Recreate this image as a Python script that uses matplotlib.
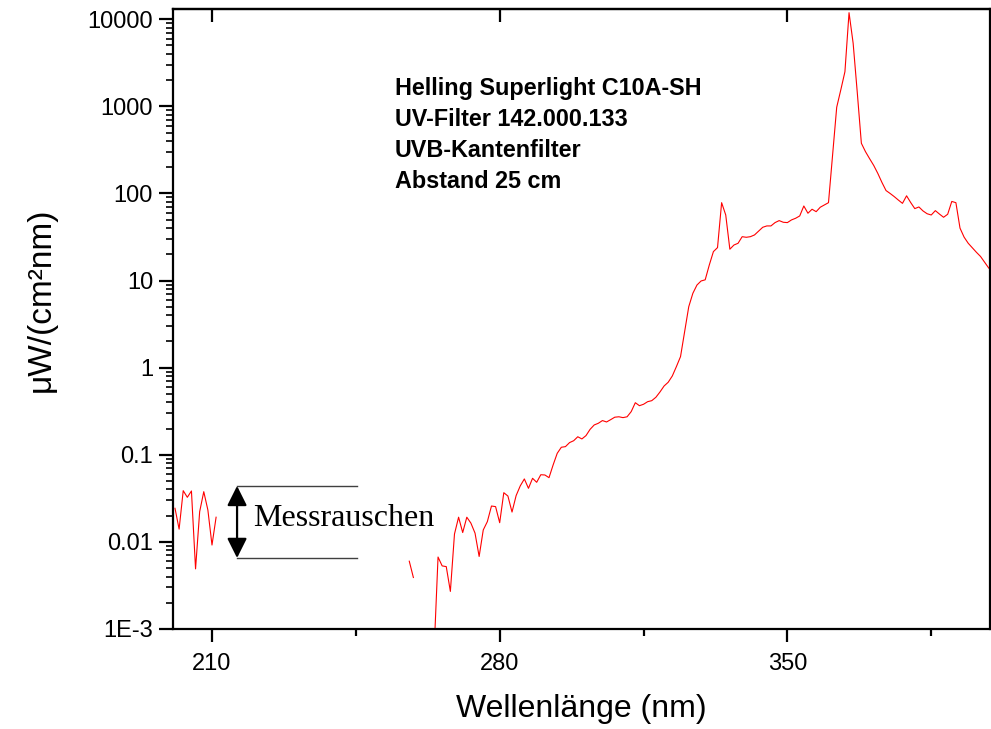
import numpy as np
import matplotlib
matplotlib.use('Agg')
import matplotlib.pyplot as plt
from matplotlib import font_manager
from matplotlib.ticker import FixedLocator, FixedFormatter, LogLocator, NullFormatter

# Wellenlaenge in nm, Bestrahlungsstaerke in uW/(cm^2 nm); nan = kein Messwert (negativ)
wavelength = list(range(201, 400))
noise_part = [0.0243, 0.0140, 0.0387, 0.0325, 0.0384, 0.0049, 0.0222, 0.0377, 0.0232, 0.0092, 0.0192]
gap_1 = [np.nan] * 46                     # 212 .. 257
short_part = [0.0060, 0.0039]             # 258, 259
gap_2 = [np.nan] * 4                      # 260 .. 263
main_part = [
    0.0005, 0.0067, 0.0053, 0.0052, 0.0027, 0.0123, 0.0192, 0.0128, 0.0192, 0.0164,   # 264-273
    0.0126, 0.0068, 0.0137, 0.0171, 0.0258, 0.0254, 0.0166, 0.0367, 0.0336, 0.0220,   # 274-283
    0.0340, 0.0439, 0.0528, 0.0412, 0.0537, 0.0483, 0.059, 0.0586, 0.0546, 0.0764,    # 284-293
    0.104, 0.122, 0.124, 0.138, 0.145, 0.161, 0.152, 0.166, 0.196, 0.220,             # 294-303
    0.230, 0.247, 0.238, 0.253, 0.270, 0.273, 0.267, 0.273, 0.313, 0.396,             # 304-313
    0.366, 0.380, 0.407, 0.418, 0.457, 0.526, 0.616, 0.680, 0.803, 1.03,              # 314-323
    1.34, 2.59, 5.01, 7.14, 8.89, 9.89, 10.2, 15.1, 21.5, 23.9,                       # 324-333
    78.4, 56.6, 22.9, 25.6, 26.8, 31.9, 31.4, 31.9, 33.4, 37.0,                       # 334-343
    40.9, 42.4, 42.4, 46.3, 48.8, 46.7, 46.3, 49.7, 51.9, 55.2,                       # 344-353
    71.8, 59.3, 65.9, 61.8, 69.5, 73.8, 78.4, 280, 977, 1550,                         # 354-363
    2500, 11900, 5300, 1450, 377, 302, 251, 210, 170, 134,                            # 364-373
    108, 100, 92, 84, 77, 94, 78.7, 67, 70, 63,                                       # 374-383
    58.5, 56.6, 63.5, 58, 53.3, 57.7, 81, 78.4, 40, 31.5,                             # 384-393
    26.8, 23.8, 21.1, 18.9, 16.2, 13.9,                                               # 394-399
]
irradiance = noise_part + gap_1 + short_part + gap_2 + main_part

x_ticks = [210, 280, 350]
x_minor = [245, 315, 385]
y_ticks = [1e-3, 1e-2, 1e-1, 1, 10, 100, 1000, 10000]
y_ticklabels = ['1E-3', '0.01', '0.1', '1', '10', '100', '1000', '10000']

info = 'Helling Superlight C10A-SH\nUV-Filter 142.000.133\nUVB-Kantenfilter\nAbstand 25 cm'

# schmale Schrift fuer Achsenbeschriftung, falls vorhanden
names = set(f.name for f in font_manager.fontManager.ttflist)
narrow = 'Liberation Sans Narrow' if 'Liberation Sans Narrow' in names else 'Liberation Sans'

plt.rcParams['font.family'] = ['Liberation Sans', 'DejaVu Sans']

fig = plt.figure(figsize=(9.91, 7.29), dpi=100)
ax = fig.add_axes([0.1741, 0.1372, 0.8249, 0.85])

ax.plot(wavelength, irradiance, color='#ff0000', lw=0.8)

ax.set_yscale('log')
ax.set_xlim(200.4, 399.3)
ax.set_ylim(1e-3, 1.3e4)

ax.xaxis.set_major_locator(FixedLocator(x_ticks))
ax.xaxis.set_minor_locator(FixedLocator(x_minor))
ax.yaxis.set_major_locator(FixedLocator(y_ticks))
ax.yaxis.set_major_formatter(FixedFormatter(y_ticklabels))
ax.yaxis.set_minor_locator(LogLocator(base=10, subs=np.arange(2, 10), numticks=20))
ax.yaxis.set_minor_formatter(NullFormatter())

for s in ax.spines.values():
    s.set_linewidth(1.6)

ax.tick_params(axis='y', which='major', direction='out', length=10, width=1.6, labelsize=17, pad=4)
ax.tick_params(axis='y', which='minor', direction='out', length=5, width=1.2)
ax.tick_params(axis='x', which='major', direction='out', length=9, width=1.6, labelsize=17, pad=8)
ax.tick_params(axis='x', which='minor', direction='out', length=5, width=1.6)
for lab in ax.get_xticklabels():
    lab.set_family(narrow)

# obere Achse: Haupt-Ticks nach innen
top = ax.secondary_xaxis('top')
top.set_xticks(x_ticks)
top.set_xticklabels([])
top.tick_params(direction='in', length=9, width=1.6)
top.spines['top'].set_linewidth(1.6)

ax.set_xlabel('Wellenlänge (nm)', fontsize=23, family=narrow, labelpad=14)
ax.set_ylabel('μW/(cm²nm)', fontsize=24, family=narrow)
ax.yaxis.set_label_coords(-0.142, 0.531)

ax.text(0.272, 0.891, info, transform=ax.transAxes, fontsize=16.8, fontweight='bold',
        va='top', ha='left', linespacing=1.45)

# Messrauschen-Markierung
ax.plot([216.1, 245.4], [0.0439, 0.0439], color='#404040', lw=1)
ax.plot([216.1, 245.4], [0.00653, 0.00653], color='#404040', lw=1)
ax.annotate('', xy=(216.1, 0.00653), xytext=(216.1, 0.0439),
            arrowprops=dict(arrowstyle='<|-|>', color='black', lw=1.6, mutation_scale=30,
                            shrinkA=0, shrinkB=0))
ax.text(220.0, 0.0185, 'Messrauschen', fontsize=23, family='Liberation Serif',
        va='center', ha='left')

plt.savefig('out.png', dpi=100)
